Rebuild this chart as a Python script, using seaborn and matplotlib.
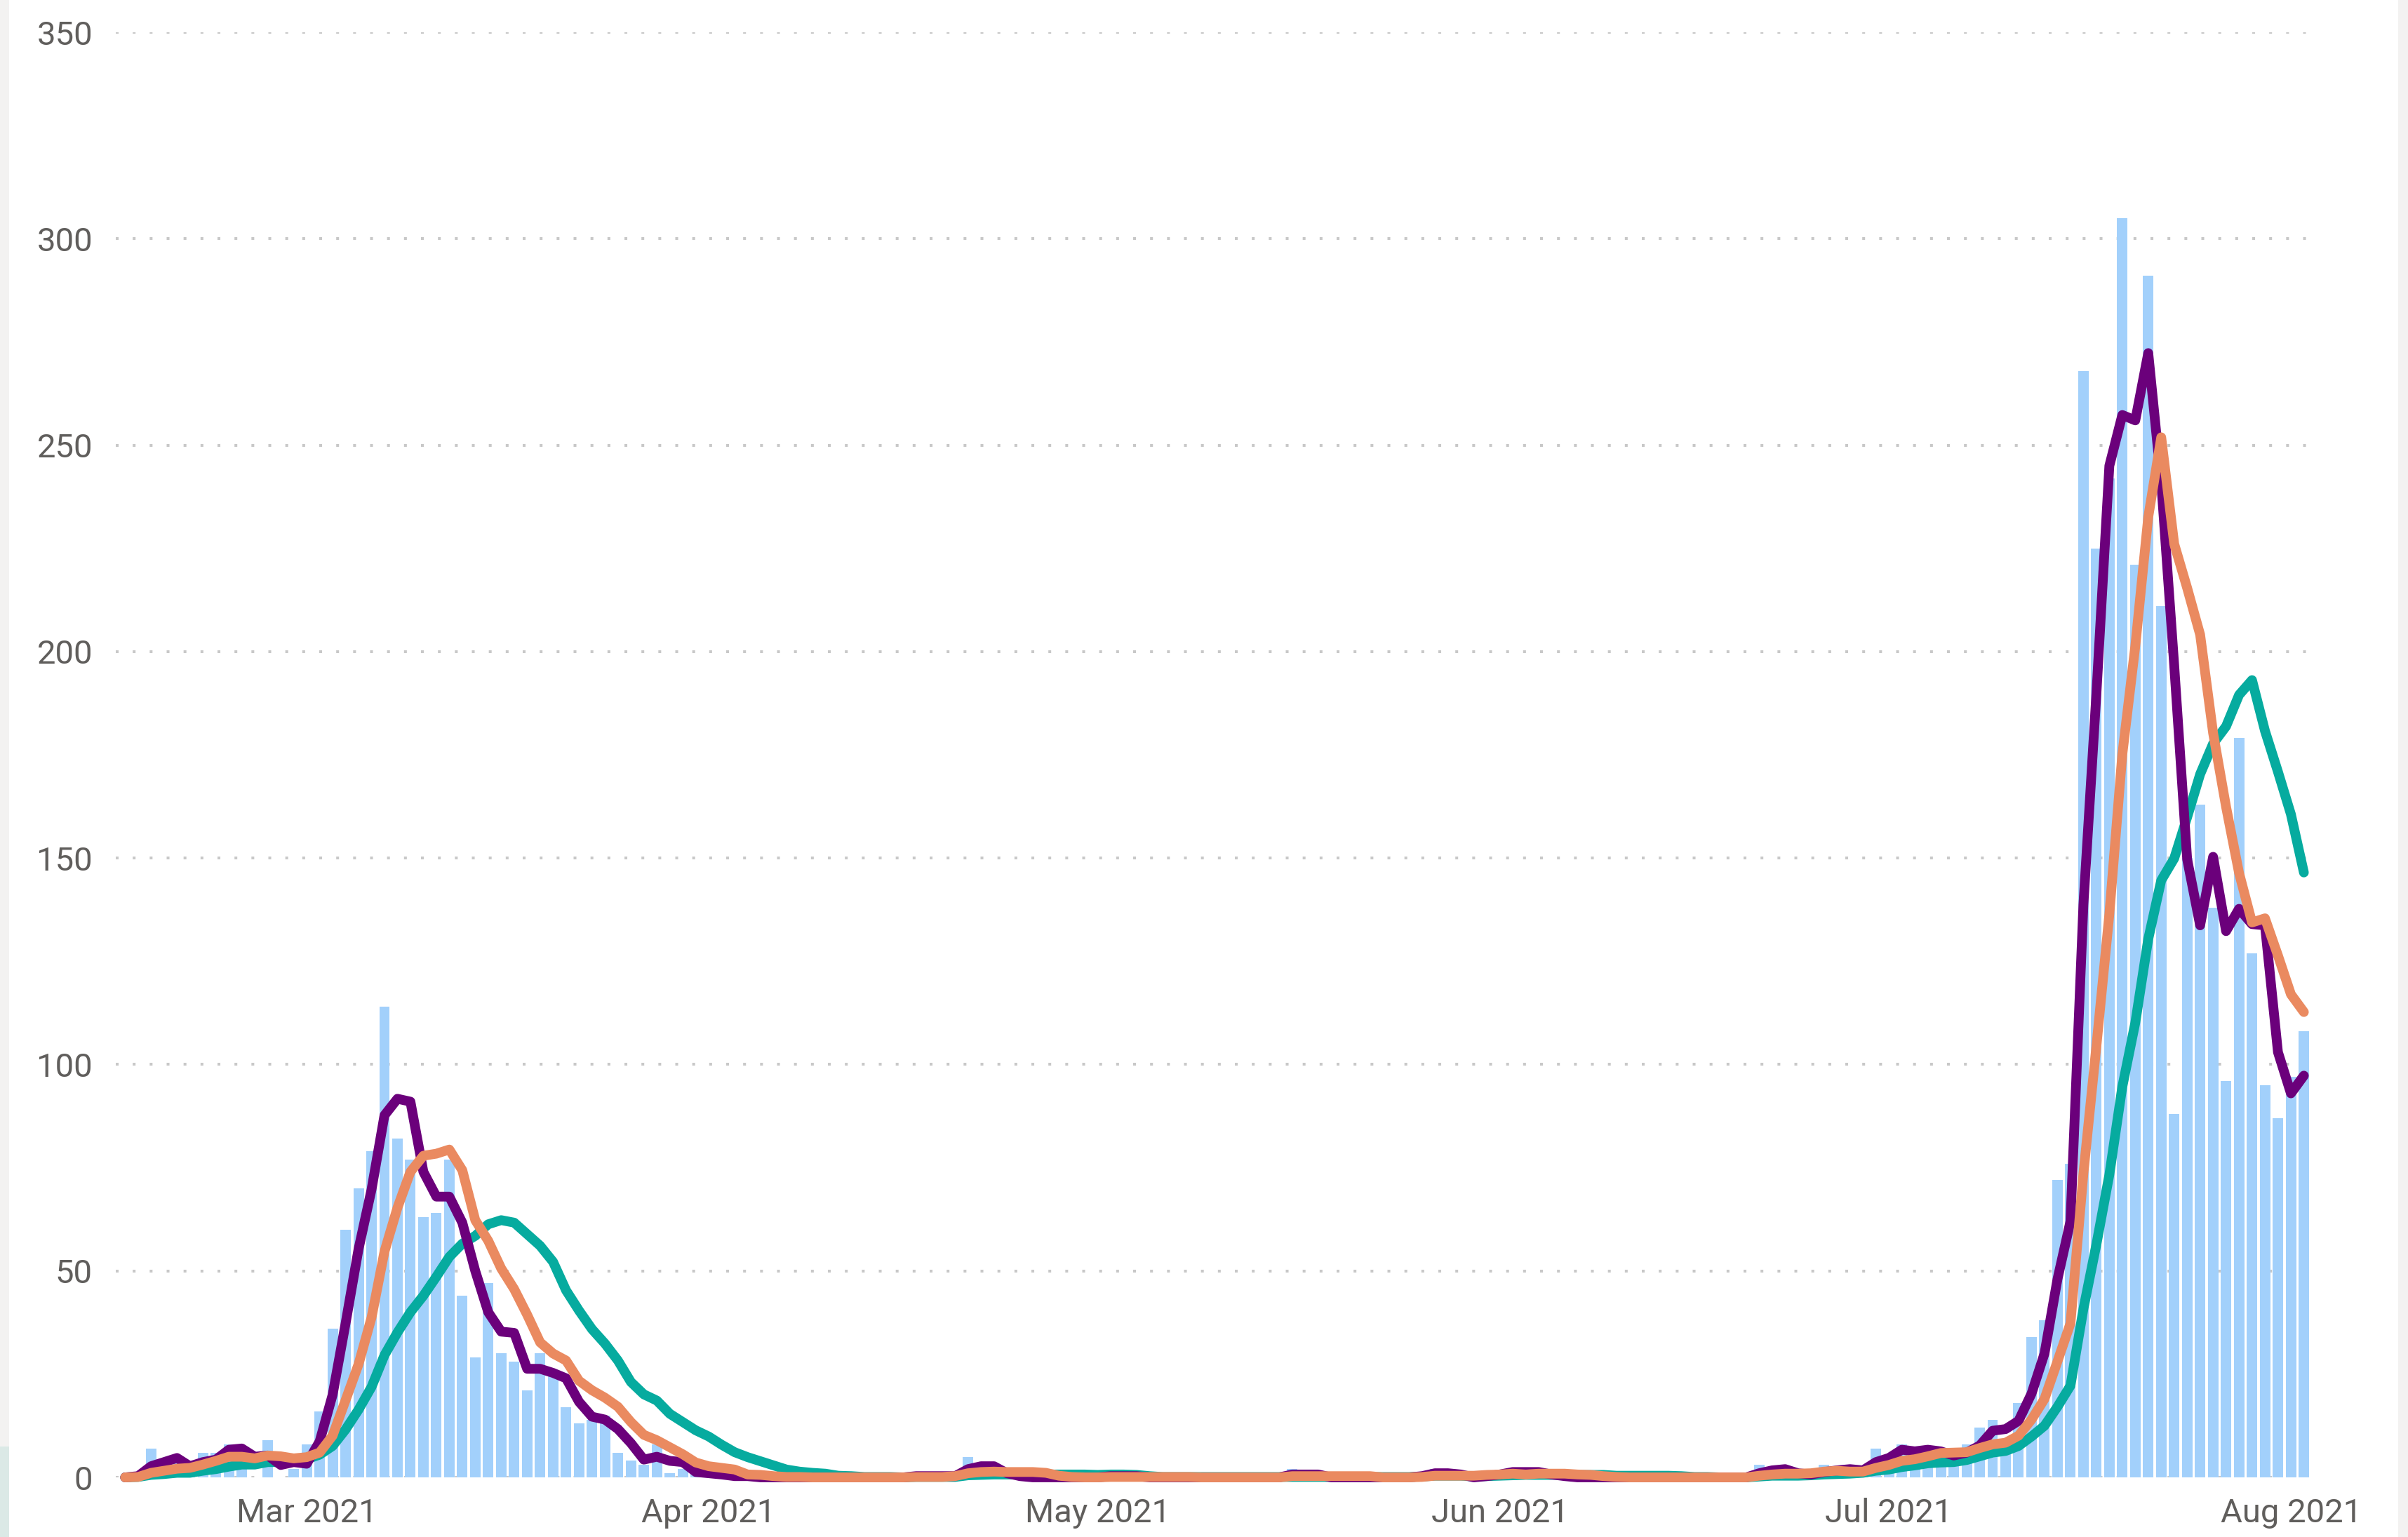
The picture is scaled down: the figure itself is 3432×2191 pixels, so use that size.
import numpy as np
import pandas as pd
import matplotlib
matplotlib.use("Agg")
import matplotlib.pyplot as plt
import matplotlib.dates as mdates
from matplotlib.patches import Rectangle
import seaborn as sns

start_date = "2021-02-15"

# daily counts (bars)
daily_cases = [
    0, 1, 7, 3, 4, 1, 6, 6, 8, 7,
    0, 9, 0, 2, 8, 16, 36, 60, 70, 79,
    114, 82, 77, 63, 64, 77, 44, 29, 47, 30,
    28, 21, 30, 25, 17, 13, 14, 15, 6, 4,
    3, 8, 1, 2, 1, 0, 1, 0, 0, 0,
    0, 0, 0, 0, 0, 0, 0, 0, 0, 0,
    0, 1, 0, 0, 1, 5, 2, 1, 0, 0,
    0, 0, 0, 0, 0, 0, 1, 0, 0, 0,
    0, 0, 0, 0, 0, 0, 0, 0, 0, 0,
    2, 0, 0, 0, 0, 0, 0, 0, 0, 0,
    1, 2, 0, 0, 0, 1, 1, 2, 1, 1,
    0, 0, 0, 0, 0, 0, 0, 0, 0, 0,
    0, 0, 0, 0, 0, 0, 3, 2, 1, 0,
    1, 3, 1, 2, 2, 7, 5, 8, 6, 6,
    7, 3, 8, 12, 14, 9, 18, 34, 38, 72,
    76, 268, 225, 242, 305, 221, 291, 211, 88, 150,
    163, 138, 96, 179, 127, 95, 87, 97, 108,
]

# purple line
avg_3day = [
    0, 0.3, 2.7, 3.7, 4.7, 2.7, 3.7, 4.3, 6.7, 7.0,
    5.0, 5.3, 3.0, 3.7, 3.3, 8.7, 20.0, 37.3, 55.3, 69.7,
    87.7, 91.7, 91.0, 74.0, 68.0, 68.0, 61.7, 50.0, 40.0, 35.3,
    35.0, 26.3, 26.3, 25.3, 24.0, 18.3, 14.7, 14.0, 11.7, 8.3,
    4.3, 5.0, 4.0, 3.7, 1.3, 1.0, 0.7, 0.3, 0.3, 0,
    0, 0, 0, 0, 0, 0, 0, 0, 0, 0,
    0, 0.3, 0.3, 0.3, 0.3, 2.0, 2.7, 2.7, 1.0, 0.3,
    0, 0, 0, 0, 0, 0, 0.3, 0.3, 0.3, 0,
    0, 0, 0, 0, 0, 0, 0, 0, 0, 0,
    0.7, 0.7, 0.7, 0, 0, 0, 0, 0, 0, 0,
    0.3, 1.0, 1.0, 0.7, 0, 0.3, 0.7, 1.3, 1.3, 1.3,
    0.7, 0.3, 0, 0, 0, 0, 0, 0, 0, 0,
    0, 0, 0, 0, 0, 0, 1.0, 1.7, 2.0, 1.0,
    0.7, 1.3, 1.7, 2.0, 1.7, 3.7, 4.7, 6.7, 6.3, 6.7,
    6.3, 5.3, 6.0, 7.7, 11.3, 11.7, 13.7, 20.3, 30.0, 48.0,
    62.0, 138.7, 189.7, 245.0, 257.3, 256.0, 272.3, 241.0, 196.7, 149.7,
    133.7, 150.3, 132.3, 137.7, 134.0, 133.7, 103.0, 93.0, 97.3,
]

# orange line
avg_7day = [
    0, 0.1, 1.1, 1.6, 2.1, 2.3, 3.1, 4.0, 5.0, 5.0,
    4.6, 5.3, 5.1, 4.6, 4.9, 6.0, 10.1, 18.7, 27.4, 38.7,
    54.7, 65.3, 74.0, 77.9, 78.4, 79.4, 74.4, 62.3, 57.3, 50.6,
    45.6, 39.4, 32.7, 30.0, 28.3, 23.4, 21.1, 19.3, 17.1, 13.4,
    10.3, 9.0, 7.3, 5.6, 3.6, 2.7, 2.3, 1.9, 0.7, 0.6,
    0.3, 0.1, 0.1, 0, 0, 0, 0, 0, 0, 0,
    0, 0.1, 0.1, 0.1, 0.3, 1.0, 1.3, 1.4, 1.3, 1.3,
    1.3, 1.1, 0.4, 0.1, 0, 0, 0.1, 0.1, 0.1, 0.1,
    0.1, 0.1, 0.1, 0, 0, 0, 0, 0, 0, 0,
    0.3, 0.3, 0.3, 0.3, 0.3, 0.3, 0.3, 0, 0, 0,
    0.1, 0.4, 0.4, 0.4, 0.4, 0.6, 0.7, 0.9, 0.7, 0.9,
    0.9, 0.9, 0.7, 0.6, 0.3, 0.1, 0, 0, 0, 0,
    0, 0, 0, 0, 0, 0, 0.4, 0.7, 0.9, 0.9,
    1.0, 1.4, 1.6, 1.4, 1.4, 2.3, 3.0, 4.0, 4.4, 5.1,
    5.9, 6.0, 6.1, 7.1, 8.0, 8.4, 10.1, 14.0, 19.0, 28.1,
    37.3, 73.6, 104.4, 136.4, 175.1, 201.3, 232.6, 251.9, 226.1, 215.4,
    204.1, 180.3, 162.4, 146.4, 134.4, 135.4, 126.4, 117.0, 112.7,
]

# teal line
avg_14day = [
    0, 0.1, 0.6, 0.8, 1.1, 1.1, 1.6, 2.0, 2.6, 3.1,
    3.1, 3.7, 3.7, 3.9, 4.4, 5.5, 7.6, 11.6, 16.4, 21.9,
    29.6, 35.1, 40.0, 44.0, 48.6, 53.4, 56.6, 58.5, 61.3, 62.3,
    61.7, 58.9, 56.1, 52.2, 45.3, 40.4, 35.9, 32.4, 28.3, 23.1,
    20.1, 18.6, 15.4, 13.4, 11.4, 9.9, 7.9, 6.1, 4.9, 3.9,
    2.9, 1.9, 1.4, 1.1, 0.9, 0.4, 0.3, 0.1, 0.1, 0.1,
    0, 0.1, 0.1, 0.1, 0.1, 0.5, 0.6, 0.7, 0.7, 0.7,
    0.7, 0.7, 0.7, 0.7, 0.7, 0.6, 0.7, 0.7, 0.6, 0.3,
    0.1, 0.1, 0.1, 0.1, 0.1, 0.1, 0.1, 0.1, 0.1, 0.1,
    0.1, 0.1, 0.1, 0.1, 0.1, 0.1, 0.1, 0.1, 0.1, 0.1,
    0.2, 0.4, 0.4, 0.4, 0.2, 0.3, 0.4, 0.5, 0.6, 0.6,
    0.6, 0.6, 0.6, 0.6, 0.6, 0.4, 0.4, 0.4, 0.4, 0.4,
    0.3, 0.1, 0.1, 0, 0, 0, 0.2, 0.4, 0.4, 0.4,
    0.5, 0.7, 0.8, 0.9, 1.1, 1.6, 1.9, 2.5, 2.9, 3.4,
    3.6, 3.7, 4.2, 5.1, 6.0, 6.4, 7.6, 9.9, 12.5, 17.1,
    22.2, 40.8, 56.4, 73.3, 94.6, 110.1, 130.4, 144.6, 149.9, 159.9,
    170.3, 177.7, 181.9, 189.5, 193.1, 180.8, 170.9, 160.6, 146.5,
]

tick_dates = ["2021-03-01", "2021-04-01", "2021-05-01", "2021-06-01", "2021-07-01", "2021-08-01"]
tick_labels = ["Mar 2021", "Apr 2021", "May 2021", "Jun 2021", "Jul 2021", "Aug 2021"]
y_ticks = [0, 50, 100, 150, 200, 250, 300, 350]

BAR = "#a2d0fb"
PURPLE = "#6b007b"
ORANGE = "#ea8a60"
TEAL = "#06ab9f"
TXT = "#605e5c"

sns.set_style("white")
plt.rcParams["font.family"] = ["Roboto", "DejaVu Sans"]

W, H = 3432, 2191
fig = plt.figure(figsize=(W / 100, H / 100), dpi=100)
fig.patch.set_facecolor("white")
ax = fig.add_axes([165 / W, 85 / H, 3129.7 / W, 2060 / H])

dates = pd.date_range(start_date, periods=len(daily_cases), freq="D")
xnum = mdates.date2num(dates.to_pydatetime())

sns.barplot(x=xnum, y=daily_cases, native_scale=True, orient="x", color=BAR,
            saturation=1, width=0.81, linewidth=0, ax=ax, zorder=2)
for ys, col, z in [(avg_14day, TEAL, 3), (avg_3day, PURPLE, 4), (avg_7day, ORANGE, 5)]:
    sns.lineplot(x=xnum, y=ys, color=col, linewidth=10, ax=ax, zorder=z,
                 solid_capstyle="round", solid_joinstyle="round", clip_on=False)

ax.set_xlim(xnum[0] - 0.72, xnum[-1] + 0.6)
ax.set_ylim(0, 350)
ax.set_yticks(y_ticks)
ax.set_yticklabels([str(v) for v in y_ticks])
ax.set_xticks(mdates.date2num(pd.to_datetime(tick_dates).to_pydatetime()))
ax.set_xticklabels(tick_labels)
ax.set_xlabel("")
ax.set_ylabel("")
for s in ax.spines.values():
    s.set_visible(False)
ax.tick_params(axis="both", length=0, labelsize=34, labelcolor=TXT)
ax.tick_params(axis="y", pad=23.8)
ax.tick_params(axis="x", pad=21)
ax.set_axisbelow(True)
ax.yaxis.grid(True, linestyle=(0, (1, 5)), linewidth=2.9, color="#c8c8c8")
ax.xaxis.grid(False)
ax.set_facecolor("none")

fig.patches.append(Rectangle((0, 129 / H), 13 / W, 1 - 129 / H, transform=fig.transFigure,
                             facecolor="#f3f2f1", edgecolor="none", zorder=0))
fig.patches.append(Rectangle((0, 0), 13 / W, 129 / H, transform=fig.transFigure,
                             facecolor="#dbe9e6", edgecolor="none", zorder=0))
fig.patches.append(Rectangle((3418 / W, 0), 14 / W, 1, transform=fig.transFigure,
                             facecolor="#f3f2f1", edgecolor="none", zorder=0))

fig.savefig("out.png", dpi=100)
